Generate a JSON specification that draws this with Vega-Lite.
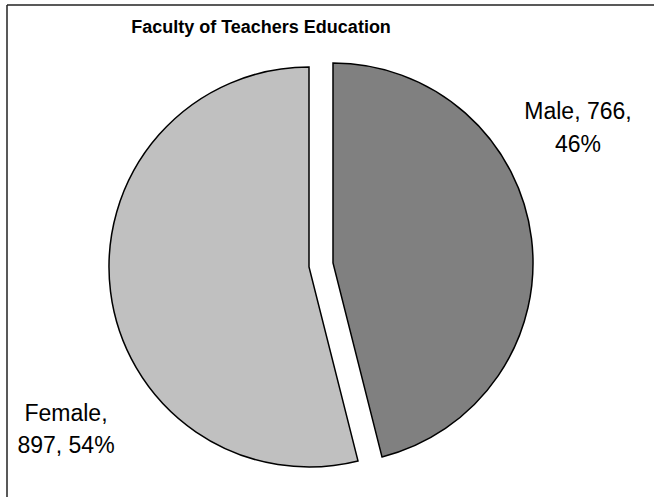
{
  "$schema": "https://vega.github.io/schema/vega-lite/v6.json",
  "width": 647,
  "height": 492,
  "autosize": "none",
  "padding": {"left": 7, "top": 5, "right": 0, "bottom": 0},
  "background": "white",
  "config": {
    "view": {"stroke": null},
    "font": "Liberation Sans"
  },
  "title": {
    "text": "Faculty of Teachers Education",
    "anchor": "middle",
    "dx": -69.5,
    "dy": 21,
    "offset": -26,
    "baseline": "alphabetic",
    "font": "Liberation Sans",
    "fontSize": 18,
    "fontWeight": "bold",
    "color": "black"
  },
  "data": {
    "values": [
      {"sex": "Male", "count": 766, "label": ["Male, 766,", "46%"]},
      {"sex": "Female", "count": 897, "label": ["Female,", "897, 54%"]}
    ]
  },
  "transform": [
    {"stack": "count", "groupby": [], "sort": [{"field": "sex", "order": "descending"}], "as": ["t0", "t1"]}
  ],
  "layer": [
    {
      "transform": [{"filter": "datum.sex === 'Male'"}],
      "mark": {"type": "rule", "stroke": "#222222", "strokeWidth": 1.5},
      "encoding": {"y": {"value": 0}}
    },
    {
      "transform": [{"filter": "datum.sex === 'Male'"}],
      "mark": {"type": "rule", "stroke": "#222222", "strokeWidth": 1.5},
      "encoding": {"x": {"value": 0}}
    },
    {
      "transform": [{"filter": "datum.sex === 'Male'"}],
      "encoding": {
        "theta": {"field": "t0", "type": "quantitative", "scale": {"domain": [0, 1663]}},
        "theta2": {"field": "t1"}
      },
      "layer": [
        {
          "mark": {"type": "arc", "radius": 200, "fill": "#808080", "stroke": "black", "strokeWidth": 1.5, "xOffset": 2.5, "yOffset": 12}
        },
        {
          "mark": {"type": "text", "align": "center", "baseline": "alphabetic", "fontSize": 23, "lineHeight": 33, "font": "Liberation Sans", "color": "black", "xOffset": 247.5, "yOffset": -132},
          "encoding": {"theta": null, "theta2": null, "text": {"field": "label"}}
        }
      ]
    },
    {
      "transform": [{"filter": "datum.sex === 'Female'"}],
      "encoding": {
        "theta": {"field": "t0", "type": "quantitative", "scale": {"domain": [0, 1663]}},
        "theta2": {"field": "t1"}
      },
      "layer": [
        {
          "mark": {"type": "arc", "radius": 200, "fill": "#c0c0c0", "stroke": "black", "strokeWidth": 1.5, "xOffset": -21.5, "yOffset": 16}
        },
        {
          "mark": {"type": "text", "align": "center", "baseline": "alphabetic", "fontSize": 23, "lineHeight": 32, "font": "Liberation Sans", "color": "black", "xOffset": -264.5, "yOffset": 170},
          "encoding": {"theta": null, "theta2": null, "text": {"field": "label"}}
        }
      ]
    }
  ]
}
